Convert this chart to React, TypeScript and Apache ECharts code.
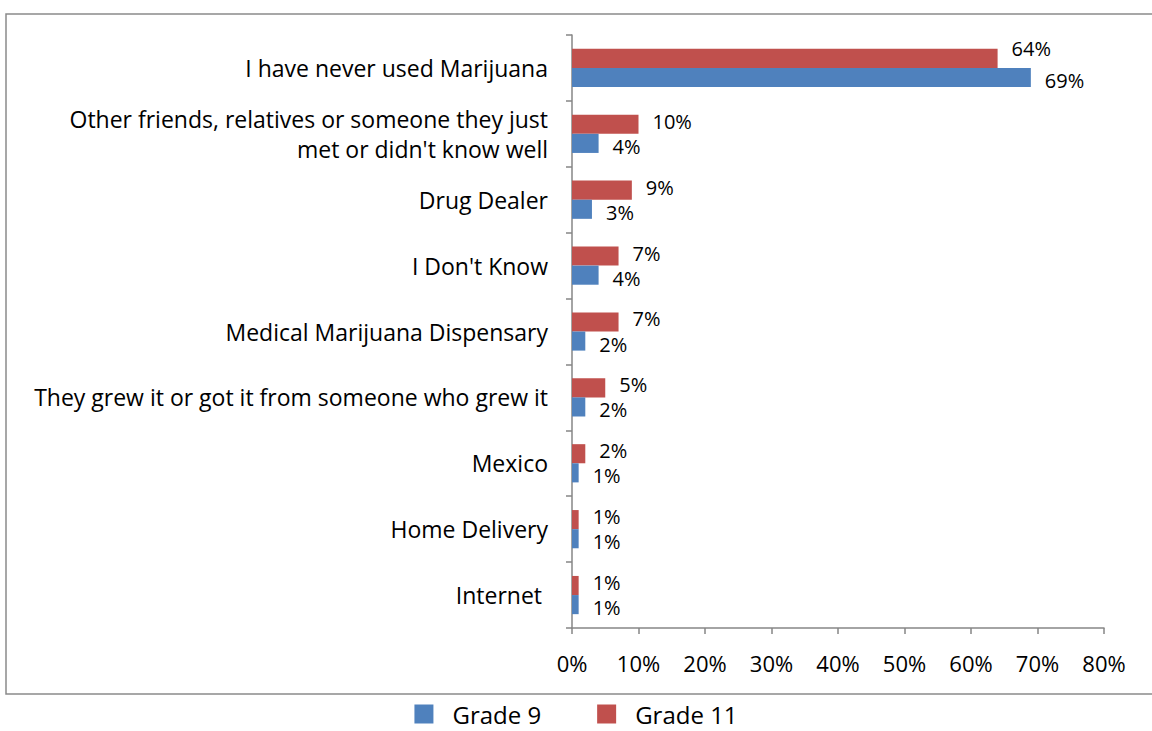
import React, { useEffect, useRef } from "react";
import * as echarts from "echarts";

const categories = [
  "I have never used Marijuana",
  "Other friends, relatives or someone they just\nmet or didn't know well",
  "Drug Dealer",
  "I Don't Know",
  "Medical Marijuana Dispensary",
  "They grew it or got it from someone who grew it",
  "Mexico",
  "Home Delivery",
  "Internet ",
];
const grade9 = [69, 4, 3, 4, 2, 2, 1, 1, 1];
const grade11 = [64, 10, 9, 7, 7, 5, 2, 1, 1];
const xTicks = [0, 10, 20, 30, 40, 50, 60, 70, 80];

const FONT = "'Open Sans', 'Noto Sans', sans-serif";

export default function App() {
  const ref = useRef<HTMLDivElement>(null);
  useEffect(() => {
    if (!ref.current) return;
    const chart = echarts.init(ref.current, null, { renderer: "svg" });
    const labelBase = {
      show: true,
      position: "right",
      distance: 14,
      fontSize: 20,
      lineHeight: 18,
      color: "#000",
      fontFamily: FONT,
      formatter: "{c}%",
    };
    chart.setOption({
      animation: false,
      textStyle: { fontFamily: FONT },
      graphic: [
        {
          type: "rect",
          shape: { x: 6, y: 14, width: 1160, height: 680 },
          style: { fill: "none", stroke: "#8a8a8a", lineWidth: 1.5 },
          silent: true,
        },
      ],
      legend: {
        bottom: 0,
        left: "center",
        data: ["Grade 9", "Grade 11"],
        icon: "rect",
        itemWidth: 19,
        itemHeight: 19,
        itemGap: 56,
        textStyle: { fontSize: 24, color: "#000", fontFamily: FONT, padding: [0, 0, 0, 14] },
      },
      grid: { left: 572, right: 48, top: 35, bottom: 103, containLabel: false },
      xAxis: {
        type: "value",
        min: 0,
        max: 80,
        interval: 10,
        axisLine: { show: true, lineStyle: { color: "#868686", width: 1.5 } },
        axisTick: { show: true, length: 6, lineStyle: { color: "#868686", width: 1.5 } },
        splitLine: { show: false },
        axisLabel: {
          fontSize: 22,
          color: "#000",
          margin: 24,
          fontFamily: FONT,
          formatter: (v: number) => (xTicks.includes(v) ? v + "%" : ""),
        },
      },
      yAxis: {
        type: "category",
        inverse: true,
        data: categories,
        axisLine: { show: true, lineStyle: { color: "#868686", width: 1.5 } },
        axisTick: { show: true, length: 6, lineStyle: { color: "#868686", width: 1.5 } },
        axisLabel: {
          fontSize: 23,
          color: "#000",
          margin: 24,
          lineHeight: 30,
          align: "right",
          fontFamily: FONT,
        },
      },
      series: [
        {
          name: "Grade 11",
          type: "bar",
          data: grade11.map((v, i) =>
            i === 0 ? { value: v, label: { offset: [0, -10] } } : v
          ),
          itemStyle: { color: "#C0504D" },
          barGap: "0%",
          barCategoryGap: "42%",
          label: { ...labelBase, offset: [0, -3] },
        },
        {
          name: "Grade 9",
          type: "bar",
          data: grade9,
          itemStyle: { color: "#4F81BD" },
          barGap: "0%",
          barCategoryGap: "42%",
          label: { ...labelBase, offset: [0, 3] },
        },
      ],
    });
    return () => chart.dispose();
  }, []);
  return (
    <div
      ref={ref}
      style={{ position: "absolute", left: 0, top: 0, width: 1152, height: 731, background: "#fff" }}
    />
  );
}
